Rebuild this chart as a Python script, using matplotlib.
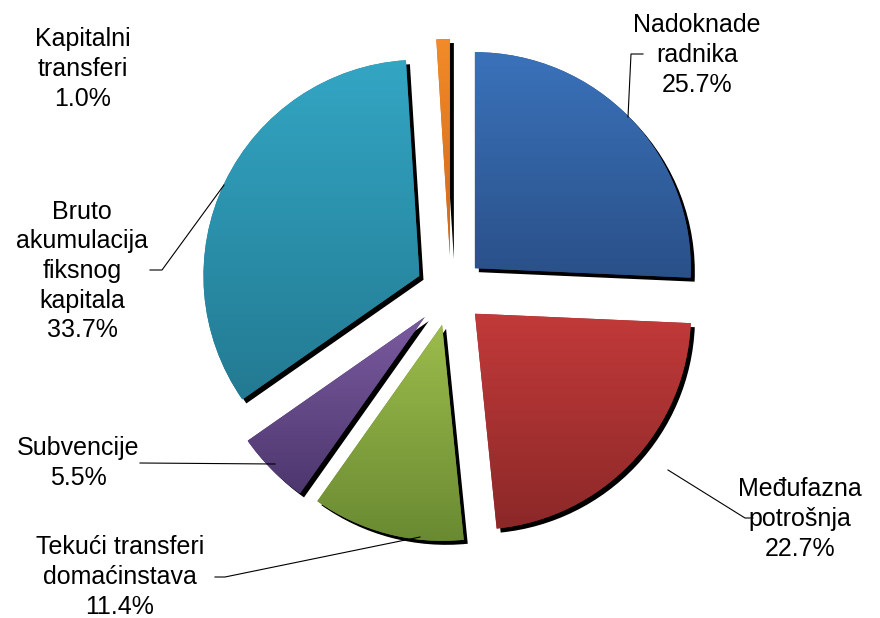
import numpy as np
import matplotlib
matplotlib.use('Agg')
import matplotlib.pyplot as plt
from matplotlib.patches import Wedge

plt.rcParams['font.family'] = ['Liberation Sans', 'DejaVu Sans']

labels = ['Nadoknade\nradnika', 'Međufazna\npotrošnja', 'Tekući transferi\ndomaćinstava',
          'Subvencije', 'Bruto\nakumulacija\nfiksnog\nkapitala', 'Kapitalni\ntransferi']
shares = [25.7, 22.7, 11.4, 5.5, 33.7, 1.0]
tops = ['#3a72ba', '#c23a3a', '#9cbc4c', '#7b5ba0', '#33a6c4', '#f28b28']
bottoms = ['#2a5088', '#8c2828', '#6a8a32', '#4d376e', '#237a92', '#d2681a']
explode = [33, 33, 35, 37, 35, 36]

# label text centre, leader anchor on slice, elbow, end of horizontal tick (pixels, y down)
lab_xy = [(697, 55), (800, 519), (120, 577), (78, 463), (82, 271), (83, 69)]
leaders = [[(628, 117), (631, 54), (643, 54)],
           [(668, 470), (745, 518), (753, 518)],
           [(420, 537), (225, 577), (215, 577)],
           [(275, 464), (140, 463)],
           [(224, 185), (162, 270), (150, 270)],
           None]

W, H = 880, 618
fig = plt.figure(figsize=(8.8, 6.18), dpi=100)
ax = fig.add_axes([0, 0, 1, 1])

wedges, _ = ax.pie(shares, startangle=90, counterclock=False, center=(451, H - 291),
                   radius=216, explode=explode, frame=True)

for w, c0, c1 in zip(wedges, tops, bottoms):
    cx, cy = w.center
    sh = Wedge((cx + 4, cy - 4), w.r, w.theta1, w.theta2, facecolor='black',
               edgecolor='none', zorder=1)
    ax.add_patch(sh)
    w.set_facecolor(c1)
    w.set_edgecolor('none')
    w.set_zorder(2)
    # vertical gradient inside the slice
    bb = w.get_path().get_extents(w.get_transform() + ax.transData.inverted())
    a = np.array(matplotlib.colors.to_rgb(c0))
    b = np.array(matplotlib.colors.to_rgb(c1))
    t = np.linspace(0, 1, 256)[:, None]
    grad = (a * (1 - t) + b * t)[:, None, :]
    im = ax.imshow(grad, extent=(bb.x0, bb.x1, bb.y0, bb.y1), origin='upper',
                   aspect='auto', zorder=3, interpolation='bilinear')
    im.set_clip_path(w)

ax.set_xlim(0, W)
ax.set_ylim(0, H)
ax.axis('off')

for lab, s, (x, y), ld in zip(labels, shares, lab_xy, leaders):
    ax.text(x, H - y, f'{lab}\n{s:.1f}%', ha='center', va='center', fontsize=18,
            linespacing=1.3, multialignment='center', color='black', zorder=5)
    if ld:
        xs = [p[0] for p in ld]
        ys = [H - p[1] for p in ld]
        ax.plot(xs, ys, color='black', lw=0.8, zorder=4)

fig.savefig('out.png', dpi=100, facecolor='white')
